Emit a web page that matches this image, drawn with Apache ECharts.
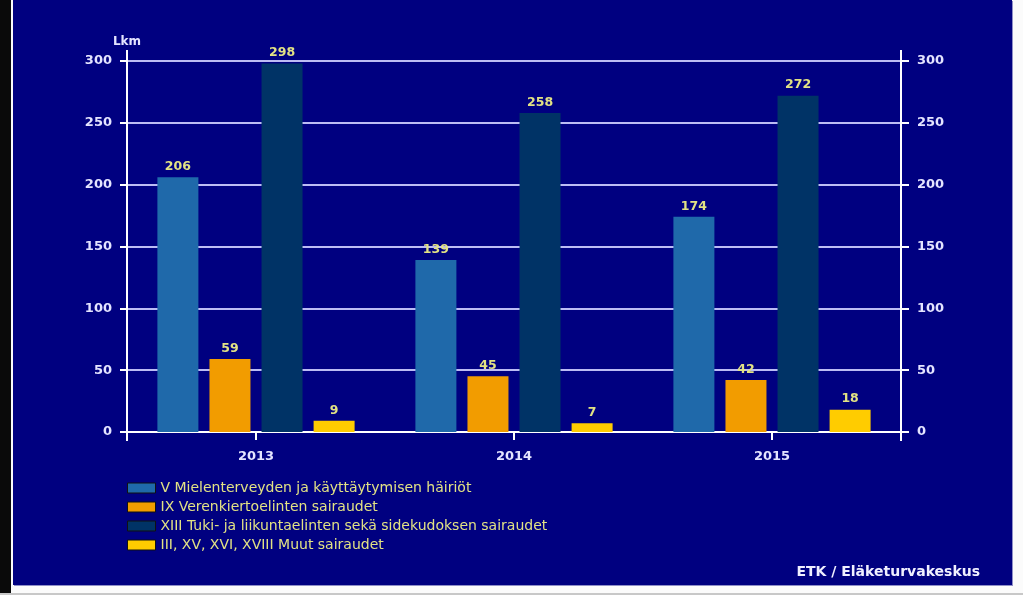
<!DOCTYPE html>
<html><head><meta charset="utf-8">
<script src="https://cdn.jsdelivr.net/npm/echarts@6/dist/echarts.min.js"></script>
<style>
html,body{margin:0;padding:0;background:#fbfbfb;width:1023px;height:595px;overflow:hidden;}
#strip{position:absolute;left:0;top:0;width:11px;height:595px;background:#0a0a0a;}
#c{position:absolute;left:13px;top:0;width:999px;height:585px;background:#000080;box-shadow:1px 1px 0 #9090c8;}
#bl{position:absolute;left:0;top:593px;width:1023px;height:2px;background:#c8c8c8;}
</style></head><body>
<div id="strip"></div><div id="c"></div><div id="bl"></div>
<script>
const categories = ['2013', '2014', '2015'];
const seriesNames = [
  'V Mielenterveyden ja käyttäytymisen häiriöt',
  'IX Verenkiertoelinten sairaudet',
  'XIII Tuki- ja liikuntaelinten sekä sidekudoksen sairaudet',
  'III, XV, XVI, XVIII Muut sairaudet'
];
const mental = [206, 139, 174];
const circulatory = [59, 45, 42];
const musculo = [298, 258, 272];
const other = [9, 7, 18];
const yTicks = [0, 50, 100, 150, 200, 250, 300];
const colors = ['#1f69aa', '#f29c00', '#003366', '#ffcc00'];

const FONT = '"DejaVu Sans", Verdana, sans-serif';
const chart = echarts.init(document.getElementById('c'));
const labelStyle = {show: true, position: 'top', color: '#e2e284', fontFamily: FONT, fontSize: 12.5, fontWeight: 'bold', distance: 4};
const axisLabel = {color: '#e4e4ff', fontFamily: FONT, fontSize: 13, fontWeight: 'bold'};
const values = [mental, circulatory, musculo, other];
chart.setOption({
  animation: false,
  backgroundColor: '#000080',
  color: colors,
  grid: {left: 114, right: 111, top: 61, bottom: 153, containLabel: false},
  legend: {
    orient: 'vertical', left: 114, top: 481, padding: 0, itemWidth: 28, itemHeight: 10, itemGap: 5,
    icon: 'rect',
    itemStyle: {borderColor: '#111', borderWidth: 1},
    textStyle: {color: '#e2e284', fontFamily: FONT, fontSize: 14},
    data: seriesNames
  },
  xAxis: {
    type: 'category', data: categories,
    axisLine: {lineStyle: {color: '#ffffff', width: 2}},
    axisTick: {show: true, alignWithLabel: true, length: 8, lineStyle: {color: '#ffffff', width: 2}},
    axisLabel: Object.assign({margin: 18}, axisLabel)
  },
  yAxis: [{
    type: 'value', min: 0, max: 300, interval: 50, position: 'left',
    name: 'Lkm', nameGap: 13, nameTextStyle: {color: '#e4e4ff', fontFamily: FONT, fontSize: 12, fontWeight: 'bold', align: 'center'},
    axisLine: {show: true, lineStyle: {color: '#ffffff', width: 2}},
    axisTick: {show: true, length: 7, lineStyle: {color: '#ffffff', width: 2}},
    axisLabel: Object.assign({margin: 15, formatter: v => yTicks.includes(v) ? String(v) : ''}, axisLabel),
    splitLine: {show: true, lineStyle: {color: '#bcbcf4', width: 2}}
  }, {
    type: 'value', min: 0, max: 300, interval: 50, position: 'right',
    axisLine: {show: true, lineStyle: {color: '#ffffff', width: 2}},
    axisTick: {show: true, length: 8, lineStyle: {color: '#ffffff', width: 2}},
    axisLabel: Object.assign({margin: 16, formatter: v => yTicks.includes(v) ? String(v) : ''}, axisLabel),
    splitLine: {show: false}
  }],
  series: seriesNames.map((n, i) => ({
    name: n, type: 'bar', data: values[i], barWidth: 41, barGap: '27%',
    label: labelStyle
  }))
});

// extend the vertical axis lines slightly beyond the plot, as in the original
const rect = chart.getModel().getComponent('grid', 0).coordinateSystem.getRect();
const yTop = chart.convertToPixel({yAxisIndex: 0}, yTicks[yTicks.length - 1]);
const yBot = chart.convertToPixel({yAxisIndex: 0}, yTicks[0]);
const ext = (x) => ({type: 'line', silent: true, z: 10,
  shape: {x1: x, y1: yTop - 11, x2: x, y2: yBot + 9},
  style: {stroke: '#ffffff', lineWidth: 2}});
chart.setOption({graphic: [
  {type: 'text', right: 32, top: 565, style: {text: 'ETK / Eläketurvakeskus', fill: '#f0f0ff', font: 'bold 14px ' + FONT}},
  ext(rect.x), ext(rect.x + rect.width)
]});
</script></body></html>
